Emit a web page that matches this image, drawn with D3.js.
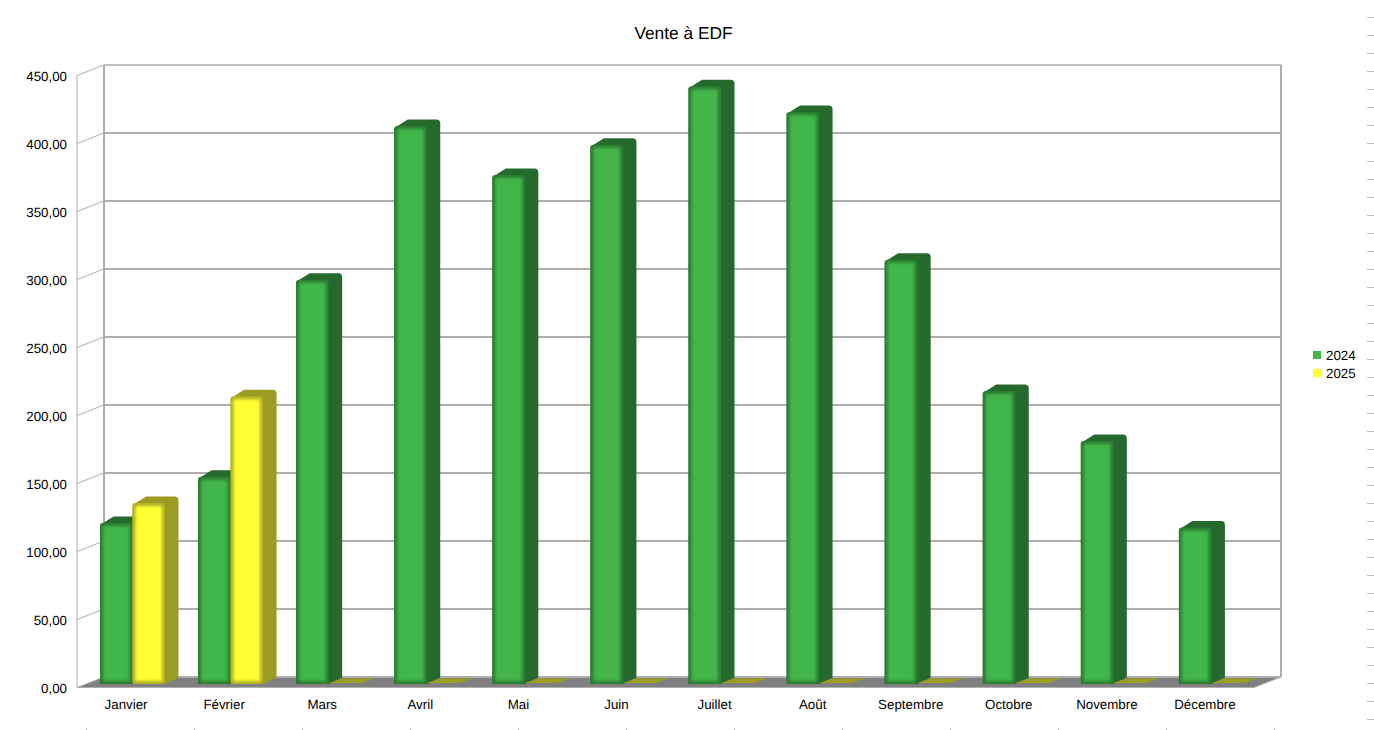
<!DOCTYPE html>
<html>
<head>
<meta charset="utf-8">
<script src="https://cdn.jsdelivr.net/npm/d3@7"></script>
<style>
  html, body { margin: 0; padding: 0; background: #fff; }
  svg { display: block; }
  text { font-family: "Liberation Sans", Arial, sans-serif; fill: #000; }
</style>
</head>
<body>
<svg id="chart" width="1374" height="730"></svg>
<script>
const months = ["Janvier", "Février", "Mars", "Avril", "Mai", "Juin", "Juillet", "Août", "Septembre", "Octobre", "Novembre", "Décembre"];
const years = ["2024", "2025"];
const values2024 = [118.4, 152.3, 297.3, 410.3, 374.3, 396.5, 439.5, 420.5, 312, 215.5, 178.7, 115];
const values2025 = [133, 211.5, 0, 0, 0, 0, 0, 0, 0, 0, 0, 0];
const yTicks = [0, 50, 100, 150, 200, 250, 300, 350, 400, 450];

const colors = {
  "2024": { face: "#43b649", edge: "#2a7d31", side: "#26692c" },
  "2025": { face: "#ffff33", edge: "#b0b028", side: "#9c9c22" },
};

const svg = d3.select("#chart");
const grid = "#adadad";

// depth of the floor and of the bars
const wallDx = 27, wallDy = 10.5;
const barDx = 13.5, barDy = 6.5;
const barInsetY = 7;

// y scale is on the back wall, x scale on the front edge of the floor
const y = d3.scaleLinear().domain([0, 450]).range([677, 65]);
const x0 = d3.scaleBand().domain(months).range([77, 1254]);
const x1 = d3.scaleBand().domain(years).range([23, 88]);

const frFormat = d3.formatLocale({ decimal: ",", thousands: " ", grouping: [3], currency: ["", "€"] }).format(".2f");

const defs = svg.append("defs");
const blur = defs.append("filter").attr("id", "soft")
  .attr("x", "-20%").attr("y", "-20%").attr("width", "140%").attr("height", "140%");
blur.append("feGaussianBlur").attr("stdDeviation", 1.4);

// floor
const backL = 104, backR = 1281, frontL = 77, frontR = 1254;
svg.append("path")
  .attr("d", `M${frontL},${y(0) + wallDy}L${backL},${y(0)}L${backR},${y(0)}L${frontR},${y(0) + wallDy}Z`)
  .attr("fill", "#808080");
svg.append("line")
  .attr("x1", frontL).attr("x2", frontR)
  .attr("y1", y(0) + wallDy).attr("y2", y(0) + wallDy)
  .attr("stroke", grid).attr("stroke-width", 1);

// walls
svg.selectAll(".grid").data(yTicks).enter().append("line")
  .attr("class", "grid")
  .attr("x1", backL).attr("x2", backR)
  .attr("y1", d => y(d)).attr("y2", d => y(d))
  .attr("stroke", grid)
  .attr("stroke-width", d => d === 450 ? 1.5 : 2);
svg.selectAll(".diag").data(yTicks).enter().append("line")
  .attr("class", "diag")
  .attr("x1", frontL).attr("x2", backL)
  .attr("y1", d => y(d) + wallDy).attr("y2", d => y(d))
  .attr("stroke", grid).attr("stroke-width", 1);
svg.append("line").attr("x1", backL).attr("x2", backL).attr("y1", y(450)).attr("y2", y(0))
  .attr("stroke", grid).attr("stroke-width", 2);
svg.append("line").attr("x1", backR).attr("x2", backR).attr("y1", y(450)).attr("y2", y(0))
  .attr("stroke", grid).attr("stroke-width", 2);
svg.append("line").attr("x1", frontL).attr("x2", frontL).attr("y1", y(450) + wallDy).attr("y2", y(0) + wallDy)
  .attr("stroke", grid).attr("stroke-width", 1);
svg.append("line").attr("x1", backR).attr("x2", frontR).attr("y1", y(0)).attr("y2", y(0) + wallDy)
  .attr("stroke", grid).attr("stroke-width", 1);

// one 3d bar: back shape (side + top) then a glossy face
function drawBar(g, xPos, w, value, c) {
  const top = y(value) + barInsetY;
  const base = y(0) + barInsetY;
  const h = base - top;

  if (h < 1) {
    g.append("path")
      .attr("d", `M${xPos},${base - 1}L${xPos + barDx},${base - barDy + 1}L${xPos + w + barDx},${base - barDy + 1}L${xPos + w},${base - 1}Z`)
      .attr("fill", c.side);
    return;
  }

  const r = 4;
  const p = d3.path();
  p.moveTo(xPos, top + 2);
  p.lineTo(xPos + barDx, top - barDy);
  p.lineTo(xPos + w + barDx - r, top - barDy);
  p.quadraticCurveTo(xPos + w + barDx, top - barDy, xPos + w + barDx, top - barDy + r);
  p.lineTo(xPos + w + barDx, base - barDy);
  p.lineTo(xPos + w, base);
  p.lineTo(xPos, base);
  p.closePath();
  g.append("path").attr("d", p.toString()).attr("fill", c.side);

  g.append("rect")
    .attr("x", xPos).attr("y", top).attr("width", w).attr("height", h)
    .attr("rx", 3).attr("fill", c.edge);
  g.append("rect")
    .attr("x", xPos + 3).attr("y", top + 3).attr("width", w - 6).attr("height", Math.max(h - 6, 0))
    .attr("fill", c.face).attr("filter", "url(#soft)");
}

const barsLayer = svg.append("g");
months.forEach((m, i) => {
  const g = barsLayer.append("g").attr("transform", `translate(${x0(m)},0)`);
  drawBar(g, x1("2024"), x1.bandwidth(), values2024[i], colors["2024"]);
  drawBar(g, x1("2025"), x1.bandwidth(), values2025[i], colors["2025"]);
});

// axes, labels only
const yAxis = svg.append("g")
  .attr("transform", `translate(${frontL - 10},${wallDy + 1})`)
  .call(d3.axisLeft(y).tickValues(yTicks).tickFormat(frFormat).tickSize(0).tickPadding(0));
yAxis.select(".domain").remove();
yAxis.selectAll("text").style("font-family", '"Liberation Sans", Arial, sans-serif').style("font-size", "13.33px").attr("text-rendering", "geometricPrecision");

const xAxis = svg.append("g")
  .attr("transform", "translate(0,702)")
  .call(d3.axisBottom(x0).tickSize(0).tickPadding(-2));
xAxis.select(".domain").remove();
xAxis.selectAll("text").style("font-family", '"Liberation Sans", Arial, sans-serif').style("font-size", "13.33px").attr("text-rendering", "geometricPrecision");

// title
svg.append("text").attr("x", 683.5).attr("y", 39)
  .attr("text-anchor", "middle").style("font-size", "17.33px").attr("text-rendering", "geometricPrecision").text("Vente à EDF");

// legend
const legend = svg.selectAll(".legend").data(years).enter().append("g")
  .attr("class", "legend")
  .attr("transform", (d, i) => `translate(1313,${351 + i * 18})`);
legend.append("rect").attr("width", 8).attr("height", 8).attr("fill", d => colors[d].face);
legend.append("text").attr("x", 13).attr("y", 9).style("font-size", "13.33px").attr("text-rendering", "geometricPrecision").text(d => d);

// stray ruler marks on the right and bottom edges of the page
svg.selectAll(".rmark").data(d3.range(17, 725, 18)).enter().append("line")
  .attr("class", "rmark")
  .attr("x1", 1367).attr("x2", 1374).attr("y1", d => d + 0.5).attr("y2", d => d + 0.5)
  .attr("stroke", "#bfbfbf");
svg.selectAll(".bmark").data(d3.range(86, 1300, 108)).enter().append("line")
  .attr("class", "bmark")
  .attr("x1", d => d + 0.5).attr("x2", d => d + 0.5).attr("y1", 728).attr("y2", 730)
  .attr("stroke", "#bfbfbf");
</script>
</body>
</html>
